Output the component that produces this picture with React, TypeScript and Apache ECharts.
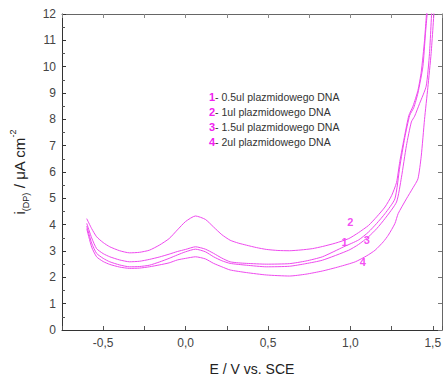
import React, { useEffect, useRef } from "react";
import * as echarts from "echarts";

// Potential (V) and current density (µA cm^-2) for each curve
const curve1X = [-0.6, -0.57, -0.54, -0.5, -0.46, -0.4, -0.34, -0.28, -0.22, -0.16, -0.1, -0.05, 0.0, 0.06, 0.12, 0.17, 0.22, 0.27, 0.32, 0.37, 0.49, 0.63, 0.73, 0.83, 0.96, 1.05, 1.11, 1.16, 1.21, 1.27, 1.3, 1.33, 1.36, 1.385, 1.41, 1.44, 1.455, 1.47];
const curve1Y = [4.05, 3.5, 3.09, 2.9, 2.78, 2.66, 2.59, 2.61, 2.68, 2.77, 2.88, 2.98, 3.06, 3.16, 3.07, 2.91, 2.73, 2.59, 2.55, 2.53, 2.5, 2.52, 2.62, 2.78, 3.16, 3.42, 3.72, 4.05, 4.42, 4.98, 6.2, 7.3, 8.15, 8.45, 9.0, 10.0, 11.2, 12.3];

const curve2X = [-0.6, -0.57, -0.54, -0.5, -0.46, -0.4, -0.34, -0.28, -0.22, -0.16, -0.1, -0.05, 0.0, 0.06, 0.12, 0.17, 0.22, 0.27, 0.32, 0.37, 0.43, 0.49, 0.56, 0.63, 0.7, 0.77, 0.83, 0.91, 0.99, 1.05, 1.11, 1.16, 1.21, 1.25, 1.28, 1.3, 1.33, 1.355, 1.38, 1.41, 1.43, 1.45, 1.465];
const curve2Y = [4.23, 3.85, 3.54, 3.32, 3.16, 3.01, 2.93, 2.95, 3.03, 3.22, 3.47, 3.8, 4.12, 4.33, 4.2, 3.91, 3.62, 3.41, 3.3, 3.22, 3.13, 3.06, 3.02, 3.01, 3.04, 3.09, 3.17, 3.3, 3.47, 3.7, 3.97, 4.3, 4.67, 5.1, 5.6, 6.4, 7.4, 8.15, 8.5, 9.1, 9.8, 11.0, 12.3];

const curve3X = [-0.6, -0.57, -0.54, -0.5, -0.46, -0.4, -0.34, -0.28, -0.22, -0.16, -0.1, -0.05, 0.0, 0.06, 0.12, 0.17, 0.22, 0.27, 0.37, 0.49, 0.63, 0.73, 0.83, 0.99, 1.05, 1.11, 1.16, 1.21, 1.28, 1.31, 1.34, 1.37, 1.39, 1.42, 1.46, 1.48, 1.495];
const curve3Y = [3.95, 3.3, 2.91, 2.72, 2.59, 2.47, 2.4, 2.41, 2.46, 2.58, 2.72, 2.85, 2.97, 3.07, 2.97, 2.78, 2.63, 2.53, 2.46, 2.4, 2.42, 2.52, 2.65, 3.03, 3.25, 3.54, 3.85, 4.23, 4.86, 5.8, 7.0, 7.9, 8.12, 8.6, 9.26, 10.5, 12.3];

const curve4X = [-0.6, -0.57, -0.54, -0.5, -0.46, -0.4, -0.34, -0.28, -0.22, -0.16, -0.1, -0.05, 0.0, 0.06, 0.12, 0.17, 0.22, 0.27, 0.37, 0.49, 0.63, 0.73, 0.83, 0.93, 1.03, 1.1, 1.15, 1.2, 1.23, 1.27, 1.29, 1.34, 1.38, 1.41, 1.43, 1.45, 1.47, 1.49, 1.51];
const curve4Y = [3.85, 3.15, 2.78, 2.6, 2.49, 2.39, 2.34, 2.35, 2.4, 2.47, 2.55, 2.66, 2.72, 2.78, 2.7, 2.53, 2.4, 2.28, 2.18, 2.09, 2.05, 2.12, 2.24, 2.4, 2.59, 2.82, 3.03, 3.35, 3.6, 4.04, 4.42, 4.98, 5.4, 5.74, 6.6, 8.0, 9.2, 10.5, 12.3];

// Curve number annotations (data coordinates)
const labelText = ["2", "1", "3", "4"];
const labelX = [1.0, 0.965, 1.1, 1.076];
const labelY = [4.11, 3.36, 3.41, 2.57];

// Legend entries
const legendNums = ["1", "2", "3", "4"];
const legendTexts = [
  "- 0.5ul plazmidowego DNA",
  "- 1ul plazmidowego DNA",
  "- 1.5ul plazmidowego DNA",
  "- 2ul plazmidowego DNA",
];

const FONT = "'Liberation Sans', Arial, sans-serif";
const LINE = "#ee4aee";
const MAG = "#f020f0";

const zip = (xs: number[], ys: number[]) => xs.map((x, i) => [x, ys[i]]);

export default function App() {
  const ref = useRef<HTMLDivElement>(null);
  useEffect(() => {
    if (!ref.current) return;
    const chart = echarts.init(ref.current, undefined, { renderer: "svg" });
    const axisLine = { show: true, onZero: false, lineStyle: { color: "#333", width: 1 } };
    const lineSeries = (data: number[][]) => ({
      type: "line",
      data,
      showSymbol: false,
      symbol: "none",
      smooth: 0.2,
      clip: true,
      lineStyle: { color: LINE, width: 1 },
      xAxisIndex: 0,
      yAxisIndex: 0,
    });
    chart.setOption({
      animation: false,
      grid: { left: 60, top: 14, right: 1, bottom: 49 },
      xAxis: [
        {
          type: "value",
          position: "bottom",
          min: -0.75,
          max: 1.556,
          interval: 0.25,
          axisLine,
          axisTick: { show: true, inside: true, length: 4, lineStyle: { color: "#555" } },
          splitLine: { show: false },
          axisLabel: {
            color: "#444",
            fontSize: 12,
            fontFamily: FONT,
            margin: 7,
            formatter: (v: number) =>
              Math.abs(v * 2 - Math.round(v * 2)) < 1e-6 ? v.toFixed(1).replace(".", ",") : "",
          },
          name: "E / V vs. SCE",
          nameLocation: "middle",
          nameGap: 32,
          nameTextStyle: { color: "#222", fontSize: 14, fontFamily: FONT },
        },
        {
          type: "value",
          position: "top",
          min: -0.75,
          max: 1.556,
          interval: 0.25,
          axisLine: { show: true, onZero: false, lineStyle: { color: "#666", width: 1 } },
          axisTick: { show: true, inside: true, length: 4, lineStyle: { color: "#888" } },
          splitLine: { show: false },
          axisLabel: { show: false },
        },
      ],
      yAxis: [
        {
          type: "value",
          position: "left",
          min: 0,
          max: 12,
          interval: 1,
          axisLine,
          axisTick: { show: true, inside: true, length: 4, lineStyle: { color: "#333" } },
          minorTick: { show: true, splitNumber: 2, length: 3, lineStyle: { color: "#555" } },
          splitLine: { show: false },
          axisLabel: { color: "#444", fontSize: 12, fontFamily: FONT, margin: 6 },
          name: "{i|i}{sub|(DP)}{m| / μA cm}{sup|-2}",
          nameLocation: "middle",
          nameRotate: 90,
          nameGap: 32,
          nameTextStyle: {
            color: "#222",
            fontFamily: FONT,
            rich: {
              i: { fontSize: 15, fontFamily: FONT, color: "#222", lineHeight: 22, verticalAlign: "middle" },
              sub: { fontSize: 9, fontFamily: FONT, color: "#222", lineHeight: 10, verticalAlign: "bottom" },
              m: { fontSize: 15, fontFamily: FONT, color: "#222", lineHeight: 22, verticalAlign: "middle" },
              sup: { fontSize: 9, fontFamily: FONT, color: "#222", lineHeight: 10, verticalAlign: "top" },
            },
          },
        },
        {
          type: "value",
          position: "right",
          min: 0,
          max: 12,
          interval: 1,
          axisLine: { show: true, onZero: false, lineStyle: { color: "#666", width: 1 } },
          axisTick: { show: true, inside: true, length: 4, lineStyle: { color: "#777" } },
          minorTick: { show: false },
          splitLine: { show: false },
          axisLabel: { show: false },
        },
      ],
      series: [
        lineSeries(zip(curve1X, curve1Y)),
        lineSeries(zip(curve2X, curve2Y)),
        lineSeries(zip(curve3X, curve3Y)),
        lineSeries(zip(curve4X, curve4Y)),
        {
          type: "scatter",
          symbolSize: 0,
          data: labelText.map((t, i) => [labelX[i], labelY[i], t]),
          label: {
            show: true,
            position: "inside",
            formatter: (p: any) => p.value[2],
            color: MAG,
            fontSize: 11,
            fontWeight: "bold",
            fontFamily: FONT,
          },
          xAxisIndex: 0,
          yAxisIndex: 0,
        },
      ],
      graphic: legendNums.map((n, i) => ({
        type: "text",
        x: 209,
        y: 91 + i * 15,
        style: {
          text: `{n|${n}}{t|${legendTexts[i]}}`,
          rich: {
            n: { fill: MAG, fontSize: 11, fontWeight: "bold", fontFamily: FONT },
            t: { fill: "#333", fontSize: 10.5, fontFamily: FONT },
          },
        },
      })),
    });
    return () => chart.dispose();
  }, []);
  return <div ref={ref} style={{ width: 445, height: 381, position: "absolute", left: 0, top: 0 }} />;
}
